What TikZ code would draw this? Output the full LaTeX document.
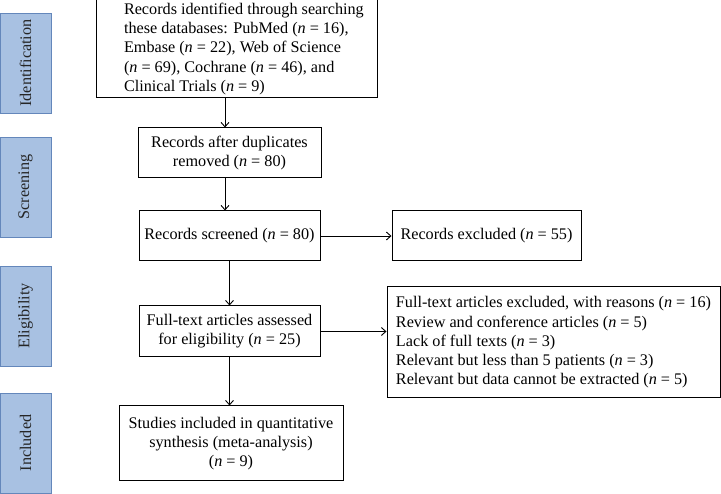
\documentclass[tikz,border=0pt]{standalone}
\usepackage{fontspec}
\setmainfont{Liberation Serif}
\usepackage{xcolor}
\usetikzlibrary{arrows.meta, positioning, calc}
\definecolor{barfill}{HTML}{A8C1E2}
\definecolor{barline}{HTML}{6487BB}
\newcommand{\bodysize}{\fontsize{16.2}{19.2}\selectfont}

\begin{document}
\begin{tikzpicture}[x=1pt, y=-1pt,
  flowbox/.style={draw, line width=1pt, inner sep=0pt, align=center, font=\bodysize},
  stagebar/.style={draw=barline, fill=barfill, line width=0.9pt, rotate=90,
    minimum width=100pt, minimum height=51pt, inner sep=0pt, font=\bodysize, text=black!85},
  flowarrow/.style={line width=0.9pt, -{Straight Barb[length=4.5pt,width=8pt]}}]

\useasboundingbox (0,0) rectangle (721,494);

% Stage bars
\foreach \lab/\yy [count=\i] in {Identification/63, Screening/187, Eligibility/316, Included/443} {
  \node[stagebar] (stage\i) at (25.5,\yy) {\lab};
}

% Boxes
\node[flowbox, minimum width=281pt, minimum height=98pt, align=left] (ident) at (236.5,49)
  {\parbox{272pt}{\leftskip=23.5pt Records identified through searching\\
   these databases: PubMed (\textit{n} = 16),\\
   Embase (\textit{n} = 22), Web of Science\\
   (\textit{n} = 69), Cochrane (\textit{n} = 46), and\\
   Clinical Trials (\textit{n} = 9)}};
\node[flowbox, minimum width=183pt, minimum height=50pt] (dup) at (229.5,153)
  {Records after duplicates\\ removed (\textit{n} = 80)};
\node[flowbox, minimum width=181pt, minimum height=50pt] (screen) at (229.5,236)
  {Records screened (\textit{n} = 80)};
\node[flowbox, minimum width=189pt, minimum height=50pt] (excl) at (486.5,236)
  {Records excluded (\textit{n} = 55)};
\node[flowbox, minimum width=181pt, minimum height=51pt] (fulltext) at (229.5,331.5)
  {Full-text articles assessed\\ for eligibility (\textit{n} = 25)};
\node[flowbox, minimum width=333pt, minimum height=111pt, align=left] (reasons) at (553.5,342.5)
  {Full-text articles excluded, with reasons (\textit{n} = 16)\\
   Review and conference articles (\textit{n} = 5)\\
   Lack of full texts (\textit{n} = 3)\\
   Relevant but less than 5 patients (\textit{n} = 3)\\
   Relevant but data cannot be extracted (\textit{n} = 5)};
\node[flowbox, minimum width=224pt, minimum height=75pt] (incl) at (231,443.5)
  {Studies included in quantitative\\ synthesis (meta-analysis)\\ (\textit{n} = 9)};

% Arrows
\coordinate (dupin) at ([xshift=-4.5pt]dup.north);
\coordinate (dupout) at ([xshift=-4.5pt]dup.south);
\draw[flowarrow] (dupin |- ident.south) -- (dupin);
\draw[flowarrow] (dupout) -- (dupout |- screen.north);
\draw[flowarrow] (screen.east) -- (excl.west);
\draw[flowarrow] (screen.south) -- (fulltext.north);
\draw[flowarrow] (fulltext.east) -- (fulltext.east -| reasons.west);
\draw[flowarrow] (fulltext.south) -- (fulltext.south |- incl.north);

\end{tikzpicture}
\end{document}
